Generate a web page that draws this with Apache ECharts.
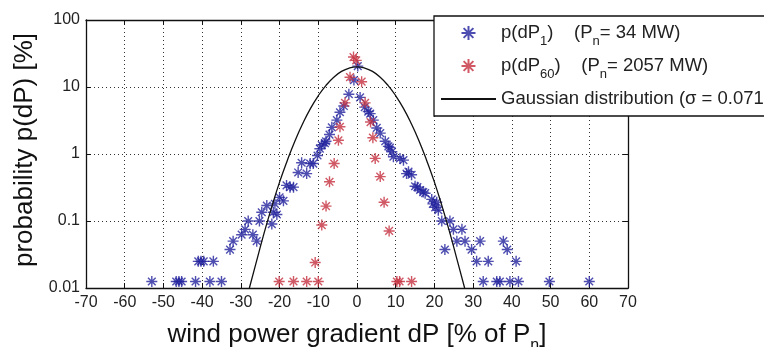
<!DOCTYPE html>
<html>
<head>
<meta charset="utf-8">
<script src="https://cdn.jsdelivr.net/npm/echarts@6/dist/echarts.min.js"></script>
<style>
  html, body { margin: 0; padding: 0; background: #fff; }
  #chart { width: 764px; height: 347px; }
</style>
</head>
<body>
<div id="chart"></div>
<script>
// Tick labels
var xTicks = [-70, -60, -50, -40, -30, -20, -10, 0, 10, 20, 30, 40, 50, 60, 70];
var yTicks = [0.01, 0.1, 1, 10, 100];

// p(dP1), Pn = 34 MW : gradient [% of Pn] and probability [%]
var dp1X = [-53.0, -46.7, -46.0, -45.3, -41.7, -41.0, -40.3, -39.6, -38.0, -37.1, -35.0,
  -32.8, -32.0, -29.8, -28.9, -28.1, -26.9, -25.9, -25.2, -24.6, -23.3, -22.0, -21.6,
  -21.2, -20.7, -20.0, -19.0, -18.2, -17.3, -16.4, -15.2, -14.3, -13.0, -12.1, -11.3,
  -10.2, -9.6, -9.1, -8.3, -8.0, -7.1, -6.5, -5.2, -4.4, -3.4, -2.1, -0.8, 0.2, 0.8,
  2.0, 2.9, 3.4, 4.2, 5.1, 6.0, 7.3, 8.1, 8.5, 9.0, 9.4, 11.1, 12.0, 12.8, 13.3, 14.1,
  15.0, 15.6, 16.3, 17.1, 17.6, 19.3, 19.6, 20.2, 20.6, 21.0, 21.9, 22.7, 24.0, 24.9,
  25.8, 27.1, 27.9, 29.6, 30.9, 31.8, 32.6, 33.9, 36.1, 36.9, 37.8, 38.8, 39.5, 41.1,
  41.7, 49.7, 60.0];
var dp1P = [0.0125, 0.0125, 0.0125, 0.0125, 0.0125, 0.025, 0.025, 0.025, 0.0125, 0.025, 0.0125,
  0.0375, 0.05, 0.0625, 0.075, 0.1, 0.0625, 0.05, 0.1, 0.135, 0.17, 0.09, 0.135,
  0.18, 0.125, 0.225, 0.2, 0.34, 0.32, 0.32, 0.53, 0.74, 0.51, 0.72, 0.72,
  0.95, 1.2, 1.36, 1.45, 1.55, 1.95, 2.5, 3.2, 4.2, 5.2, 7.8, 12.7, 20.5, 7.0,
  5.0, 4.3, 4.0, 3.2, 2.45, 2.05, 1.55, 1.3, 1.25, 1.08, 0.91, 0.86, 0.81, 0.51, 0.545, 0.49,
  0.33, 0.32, 0.29, 0.27, 0.26, 0.21, 0.18, 0.16, 0.19, 0.145, 0.1, 0.0375, 0.1, 0.075,
  0.05, 0.075, 0.05, 0.0375, 0.025, 0.05, 0.0125, 0.025, 0.0125, 0.0125, 0.05, 0.0375, 0.0125, 0.025,
  0.0125, 0.0125, 0.0125];

// p(dP60), Pn = 2057 MW
var dp60X = [-20.1, -16.4, -13.0, -10.0, -10.8, -9.1, -8.0, -7.1, -5.9, -4.8, -4.4, -3.1,
  -1.8, -0.9, -0.2, 1.2, 2.1, 3.5, 4.1, 4.7, 6.0, 7.0, 8.3, 10.3, 11.0, 14.1];
var dp60P = [0.0125, 0.0125, 0.0125, 0.0125, 0.024, 0.087, 0.167, 0.385, 0.72, 1.6, 2.55, 5.8,
  14, 28, 25, 12, 5.8, 3.0, 1.75, 0.86, 0.46, 0.19, 0.071, 0.0125, 0.0125, 0.0125];

// Gaussian reference curve (sigma = 0.071)
var gaussX = [-27.8, -26, -24, -22, -20, -18, -16, -14, -12, -10, -8, -6, -4, -2, 0,
  2, 4, 6, 8, 10, 12, 14, 16, 18, 20, 22, 24, 26, 27.8];
var gaussP = [0.01, 0.0245, 0.066, 0.164, 0.38, 0.80, 1.58, 2.86, 4.8, 7.4, 10.6, 14.0, 17.1, 19.2, 20,
  19.2, 17.1, 14.0, 10.6, 7.4, 4.8, 2.86, 1.58, 0.80, 0.38, 0.164, 0.066, 0.0245, 0.01];

var seriesNames = ['p(dP1)', 'p(dP60)', 'Gaussian'];

function pairs(xs, ys) {
  return xs.map(function (x, i) { return [x, ys[i]]; });
}

var FONT = 'Liberation Sans, Arial, sans-serif';
var STAR = 'path://M10,0L10,20M0,10L20,10M3,3L17,17M3,17L17,3';
var BLUE = '#22229e';
var RED = '#c4303f';
var AXIS = '#111';

var chart = echarts.init(document.getElementById('chart'), null, { renderer: 'canvas' });

var option = {
  animation: false,
  backgroundColor: '#fff',
  grid: { left: 86, right: 136, top: 20, bottom: 59, containLabel: false, outerBoundsMode: 'none' },
  xAxis: [{
    type: 'value', min: xTicks[0], max: xTicks[xTicks.length - 1], interval: 10,
    position: 'bottom',
    axisLine: { onZero: false, lineStyle: { color: AXIS, width: 1.3 } },
    axisTick: { inside: true, length: 5, lineStyle: { color: AXIS } },
    axisLabel: { fontSize: 16, color: '#222', fontFamily: FONT, margin: 7 },
    splitLine: { show: true, lineStyle: { type: [1, 3], color: '#333', width: 1 } },
    name: 'wind power gradient dP [% of P{s|n}]',
    nameLocation: 'middle', nameGap: 14,
    nameTextStyle: {
      fontSize: 26, color: '#111', fontFamily: FONT, lineHeight: 38,
      rich: { s: { fontSize: 16, lineHeight: 14, verticalAlign: 'bottom', color: '#111', fontFamily: FONT } }
    }
  }, {
    type: 'value', min: xTicks[0], max: xTicks[xTicks.length - 1], interval: 10,
    position: 'top',
    axisLine: { onZero: false, lineStyle: { color: AXIS, width: 1.3 } },
    axisTick: { inside: true, length: 5, lineStyle: { color: AXIS } },
    axisLabel: { show: false },
    splitLine: { show: false }
  }],
  yAxis: [{
    type: 'log', logBase: 10, min: yTicks[0], max: yTicks[yTicks.length - 1],
    position: 'left',
    axisLine: { show: true, onZero: false, lineStyle: { color: AXIS, width: 1.3 } },
    axisTick: { show: true, inside: true, length: 5, lineStyle: { color: AXIS } },
    axisLabel: {
      fontSize: 16, color: '#222', fontFamily: FONT, margin: 6,
      formatter: function (v) { return String(+v.toPrecision(3)); }
    },
    minorTick: { show: false },
    splitLine: { show: true, lineStyle: { type: [1, 3], color: '#333', width: 1 } },
    name: 'probability p(dP) [%]',
    nameLocation: 'middle', nameGap: 46,
    nameTextStyle: { fontSize: 26, color: '#111', fontFamily: FONT, padding: [0, 0, 0, 8] }
  }, {
    type: 'log', logBase: 10, min: yTicks[0], max: yTicks[yTicks.length - 1],
    position: 'right',
    axisLine: { show: true, onZero: false, lineStyle: { color: AXIS, width: 1.3 } },
    axisTick: { show: true, inside: true, length: 5, lineStyle: { color: AXIS } },
    axisLabel: { show: false },
    splitLine: { show: false }
  }],
  legend: {
    orient: 'vertical', left: 434, top: 16,
    itemWidth: 55, itemHeight: 14, itemGap: 3,
    padding: [2, 20, 2, 6],
    backgroundColor: '#fff', borderColor: AXIS, borderWidth: 1.3, borderRadius: 0,
    data: [seriesNames[0], seriesNames[1], { name: seriesNames[2], itemStyle: { opacity: 0 } }],
    formatter: function (name) {
      if (name === 'p(dP1)') return 'p(dP{s|1})    (P{s|n}= 34 MW)';
      if (name === 'p(dP60)') return 'p(dP{s|60})    (P{s|n}= 2057 MW)';
      return 'Gaussian distribution (\u03c3 = 0.071)';
    },
    textStyle: {
      fontSize: 18.5, color: '#222', fontFamily: FONT, lineHeight: 30,
      rich: { s: { fontSize: 13, lineHeight: 10, verticalAlign: 'bottom', color: '#222', fontFamily: FONT } }
    }
  },
  series: [{
    name: seriesNames[0], type: 'scatter', xAxisIndex: 0, yAxisIndex: 0,
    symbol: STAR, symbolSize: 11,
    itemStyle: { color: BLUE, borderColor: BLUE, borderWidth: 1.4 },
    data: pairs(dp1X, dp1P), z: 3
  }, {
    name: seriesNames[1], type: 'scatter', xAxisIndex: 0, yAxisIndex: 0,
    symbol: STAR, symbolSize: 11,
    itemStyle: { color: RED, borderColor: RED, borderWidth: 1.4 },
    data: pairs(dp60X, dp60P), z: 4
  }, {
    name: seriesNames[2], type: 'line', xAxisIndex: 0, yAxisIndex: 0,
    showSymbol: false, symbol: 'none', smooth: true, clip: true,
    lineStyle: { color: '#111', width: 1.3 },
    itemStyle: { color: '#111' },
    data: pairs(gaussX, gaussP), z: 5
  }]
};

chart.setOption(option);
</script>
</body>
</html>
